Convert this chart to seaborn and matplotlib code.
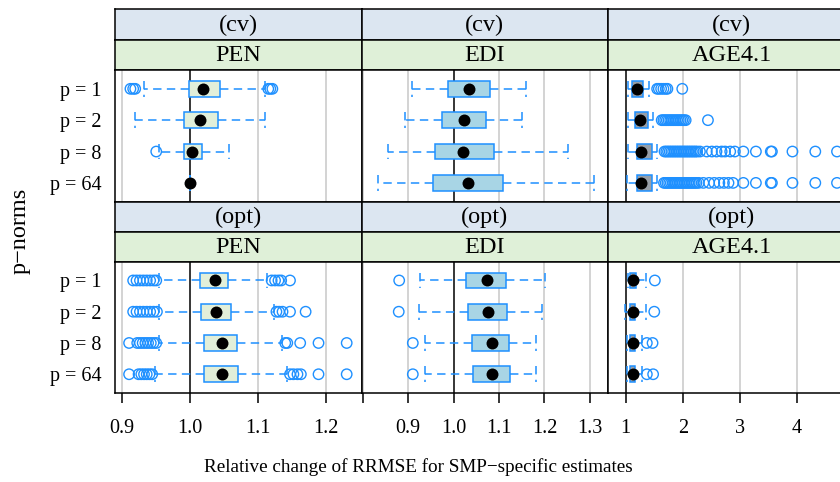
import matplotlib
matplotlib.use("Agg")
import matplotlib.pyplot as plt
import pandas as pd
import seaborn as sns

sns.set_theme(style="white")
plt.rcParams["font.family"] = ["Liberation Serif", "DejaVu Serif"]

# ---------------------------------------------------------------- data
P_LABELS = ["p = 1", "p = 2", "p = 8", "p = 64"]
METHODS = ["PEN", "EDI", "AGE4.1"]
TUNINGS = ["(cv)", "(opt)"]

# five-number summaries per p-norm: lower whisker, Q1, median, Q3, upper whisker
pen_cv = [[0.932, 0.998, 1.019, 1.044, 1.110],
          [0.918, 0.991, 1.015, 1.041, 1.110],
          [0.954, 0.991, 1.002, 1.018, 1.057],
          [1.000, 1.000, 1.000, 1.000, 1.000]]
edi_cv = [[0.908, 0.988, 1.033, 1.079, 1.159],
          [0.893, 0.974, 1.022, 1.071, 1.150],
          [0.855, 0.958, 1.021, 1.089, 1.252],
          [0.833, 0.954, 1.031, 1.109, 1.310]]
age_cv = [[1.046, 1.116, 1.203, 1.308, 1.400],
          [1.035, 1.163, 1.250, 1.385, 1.470],
          [1.035, 1.190, 1.260, 1.455, 1.540],
          [1.030, 1.190, 1.260, 1.455, 1.540]]
pen_opt = [[0.9545, 1.0144, 1.0365, 1.0561, 1.1135],
           [0.9545, 1.0155, 1.0380, 1.0597, 1.1234],
           [0.9545, 1.0208, 1.0470, 1.0694, 1.1347],
           [0.9480, 1.0208, 1.0470, 1.0710, 1.1420]]
edi_opt = [[0.9264, 1.027, 1.0727, 1.115, 1.201],
           [0.9230, 1.031, 1.0750, 1.117, 1.1945],
           [0.9375, 1.040, 1.0844, 1.121, 1.181],
           [0.9375, 1.042, 1.0844, 1.125, 1.182]]
age_opt = [[1.04, 1.08, 1.133, 1.18, 1.35],
           [0.98, 1.07, 1.122, 1.17, 1.35],
           [1.03, 1.07, 1.120, 1.16, 1.28],
           [1.03, 1.07, 1.120, 1.16, 1.28]]

# outlying observations per p-norm
pen_cv_out = [[0.912, 0.916, 0.919, 1.115, 1.118, 1.121], [], [0.950], []]
edi_cv_out = [[], [], [], []]
age_cv_out = [
    [1.55, 1.58, 1.62, 1.66, 1.70, 1.73, 1.99],
    [1.63, 1.66, 1.69, 1.72, 1.75, 1.78, 1.81, 1.84, 1.87, 1.90, 1.93,
     1.96, 1.99, 2.02, 2.05, 2.44],
    [1.68, 1.71, 1.74, 1.77, 1.80, 1.83, 1.86, 1.89, 1.92, 1.95, 1.98,
     2.01, 2.04, 2.07, 2.10, 2.13, 2.16, 2.19, 2.22, 2.25, 2.30, 2.42,
     2.51, 2.59, 2.68, 2.74, 2.83, 2.91, 3.06, 3.28, 3.54, 3.56, 3.92,
     4.32, 4.70],
    [1.67, 1.70, 1.73, 1.76, 1.79, 1.82, 1.85, 1.88, 1.91, 1.94, 1.97,
     2.00, 2.03, 2.06, 2.09, 2.12, 2.15, 2.18, 2.21, 2.24, 2.28, 2.36,
     2.46, 2.55, 2.64, 2.72, 2.80, 2.88, 3.06, 3.28, 3.54, 3.56, 3.92,
     4.32, 4.70],
]
pen_opt_out = [
    [0.916, 0.921, 0.926, 0.931, 0.936, 0.941, 0.946, 0.950,
     1.120, 1.125, 1.130, 1.134, 1.147],
    [0.916, 0.921, 0.926, 0.931, 0.936, 0.941, 0.946, 0.951,
     1.127, 1.131, 1.136, 1.147, 1.170],
    [0.910, 0.922, 0.926, 0.930, 0.934, 0.938, 0.942, 0.946, 0.950,
     1.140, 1.143, 1.162, 1.189, 1.2305],
    [0.910, 0.924, 0.928, 0.932, 0.936, 0.940, 0.944,
     1.147, 1.152, 1.158, 1.163, 1.189, 1.2305],
]
edi_opt_out = [[0.880], [0.879], [0.910], [0.910]]
age_opt_out = [[1.51], [1.50], [1.37, 1.47], [1.37, 1.48]]

STATS = {("(cv)", "PEN"): pen_cv, ("(cv)", "EDI"): edi_cv,
         ("(cv)", "AGE4.1"): age_cv, ("(opt)", "PEN"): pen_opt,
         ("(opt)", "EDI"): edi_opt, ("(opt)", "AGE4.1"): age_opt}
OUTLIERS = {("(cv)", "PEN"): pen_cv_out, ("(cv)", "EDI"): edi_cv_out,
            ("(cv)", "AGE4.1"): age_cv_out, ("(opt)", "PEN"): pen_opt_out,
            ("(opt)", "EDI"): edi_opt_out, ("(opt)", "AGE4.1"): age_opt_out}

# axis ranges and ticks for each column
X_LIMITS = {"PEN": (0.8897, 1.2526), "EDI": (0.7974, 1.3403),
            "AGE4.1": (0.695, 5.01)}
X_TICKS = {"PEN": [0.9, 1.0, 1.1, 1.2],
           "EDI": [0.8, 0.9, 1.0, 1.1, 1.2, 1.3],
           "AGE4.1": [1, 2, 3, 4]}
X_TICKLABELS = {"PEN": ["0.9", "1.0", "1.1", "1.2"],
                "EDI": ["", "0.9", "1.0", "1.1", "1.2", "1.3"],
                "AGE4.1": ["1", "2", "3", "4"]}

# ---------------------------------------------------------------- tables
box_rows, med_rows, out_rows = [], [], []
for (tuning, method), stats in STATS.items():
    for label, five in zip(P_LABELS, stats):
        for v in five:
            box_rows.append((tuning, method, label, v))
        med_rows.append((tuning, method, label, five[2]))
for (tuning, method), outs in OUTLIERS.items():
    for label, vals in zip(P_LABELS, outs):
        for v in vals:
            out_rows.append((tuning, method, label, v))
cols = ["tuning", "method", "pnorm", "value"]
box_df = pd.DataFrame(box_rows, columns=cols)
med_df = pd.DataFrame(med_rows, columns=cols)
out_df = pd.DataFrame(out_rows, columns=cols)

# ---------------------------------------------------------------- style
EDGE = "#1E90FF"
BOX_FILL = {"PEN": "#e2efd9", "EDI": "#a8d5e5", "AGE4.1": "#979fa8"}
STRIP_TOP = "#dce6f1"
STRIP_BOTTOM = "#dff0d8"
GRID = "#c8c8c8"
DASH = (0, (5.5, 3.5))
LW = 1.1
TICK_FS = 14.5
STRIP_FS = 17.5
XLABEL_FS = 13.8
YLABEL_FS = 17.5

W, H = 840, 482
fig = plt.figure(figsize=(W / 100, H / 100), dpi=100)


def rect(x0, y0, x1, y1):
    return [x0 / W, 1 - y1 / H, (x1 - x0) / W, (y1 - y0) / H]


COL_X = [115.3, 361.7, 608.3]
COL_W = 246.4
ROWS = [(9.3, 40.0, 70.0, 201.7), (201.7, 232.0, 261.7, 393.0)]


def strip(x0, y0, y1, text, colour):
    sax = fig.add_axes(rect(x0, y0, x0 + COL_W, y1))
    sax.set_facecolor(colour)
    sax.set_xticks([])
    sax.set_yticks([])
    for s in sax.spines.values():
        s.set_color("black")
        s.set_linewidth(LW)
    sax.text(0.5, 0.47, text, ha="center", va="center",
             fontsize=STRIP_FS, color="black", transform=sax.transAxes)


for r, tuning in enumerate(TUNINGS):
    s1, s2, p0, p1 = ROWS[r]
    for c, method in enumerate(METHODS):
        x0 = COL_X[c]
        strip(x0, s1, s2, tuning, STRIP_TOP)
        strip(x0, s2, p0, method, STRIP_BOTTOM)

        ax = fig.add_axes(rect(x0, p0, x0 + COL_W, p1))
        sel = lambda d: d[(d.tuning == tuning) & (d.method == method)]

        for v in X_TICKS[method]:
            ax.axvline(v, color="black" if v == 1 else GRID,
                       lw=LW, zorder=0.5)

        sns.boxplot(data=sel(box_df), x="value", y="pnorm", order=P_LABELS,
                    orient="h", whis=(0, 100), width=0.5,
                    color=BOX_FILL[method], saturation=1, linecolor=EDGE,
                    linewidth=LW, showfliers=False,
                    medianprops=dict(linewidth=0),
                    whiskerprops=dict(linestyle=DASH),
                    capprops=dict(linestyle=DASH),
                    capwidths=0.5, ax=ax)

        outs = sel(out_df)
        if len(outs):
            sns.stripplot(data=outs, x="value", y="pnorm", order=P_LABELS,
                          orient="h", jitter=False, size=7.5,
                          facecolor="none", edgecolor=EDGE, linewidth=1.0,
                          zorder=3, ax=ax)
        sns.stripplot(data=sel(med_df), x="value", y="pnorm",
                      order=P_LABELS, orient="h", jitter=False, size=8.6,
                      color="black", linewidth=0, zorder=5, ax=ax)

        ax.set_xlabel("")
        ax.set_ylabel("")
        for s in ax.spines.values():
            s.set_visible(True)
            s.set_color("black")
            s.set_linewidth(LW)
        ax.set_facecolor("white")
        ax.set_xticks(X_TICKS[method])
        ax.set_xticklabels(X_TICKLABELS[method])
        ax.set_xlim(*X_LIMITS[method])
        ax.set_ylim(3.6, -0.6)
        if r == len(TUNINGS) - 1:
            ax.tick_params(axis="x", bottom=True, direction="out",
                           length=7.5, width=LW, color="black", pad=11.5,
                           labelsize=TICK_FS, labelcolor="black")
        else:
            ax.tick_params(axis="x", bottom=False, labelbottom=False)
        if c == 0:
            ax.tick_params(axis="y", left=False, length=0, pad=9.8,
                           labelsize=TICK_FS, labelcolor="black")
        else:
            ax.tick_params(axis="y", left=False, labelleft=False)

fig.text(418 / W, 1 - 467 / H,
         "Relative change of RRMSE for SMP\u2212specific estimates",
         ha="center", va="center", fontsize=XLABEL_FS, color="black")
fig.text(20 / W, 1 - 231 / H, "p\u2212norms", rotation=90,
         ha="center", va="center", fontsize=YLABEL_FS, color="black")

fig.savefig("out.png", dpi=100, facecolor="white")
